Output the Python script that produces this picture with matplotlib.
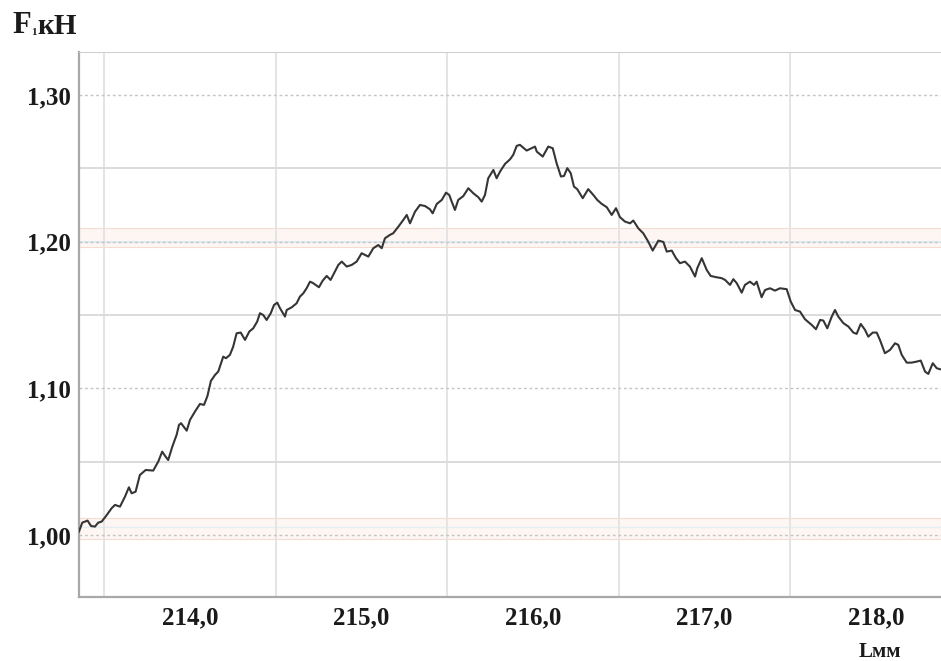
import matplotlib
matplotlib.use("Agg")
import matplotlib.pyplot as plt
from matplotlib.ticker import FixedLocator, FuncFormatter
import numpy as np

# Displacement L, mm
L_mm = [
    213.353, 213.372, 213.403, 213.423, 213.446, 213.465, 213.485, 213.508, 213.543, 213.563,
    213.592, 213.621, 213.644, 213.660, 213.683, 213.708, 213.742, 213.786, 213.815, 213.838,
    213.858, 213.873, 213.897, 213.922, 213.936, 213.948, 213.981, 214.000, 214.029, 214.058,
    214.082, 214.102, 214.122, 214.146, 214.165, 214.194, 214.210, 214.233, 214.252, 214.272,
    214.296, 214.321, 214.346, 214.369, 214.392, 214.408, 214.427, 214.447, 214.471, 214.490,
    214.509, 214.525, 214.554, 214.564, 214.593, 214.622, 214.641, 214.661, 214.680, 214.700,
    214.717, 214.752, 214.774, 214.797, 214.820, 214.845, 214.865, 214.885, 214.914, 214.943,
    214.972, 215.001, 215.040, 215.069, 215.098, 215.118, 215.137, 215.166, 215.185, 215.215,
    215.244, 215.264, 215.283, 215.312, 215.341, 215.370, 215.399, 215.415, 215.439, 215.468,
    215.493, 215.512, 215.526, 215.545, 215.564, 215.594, 215.623, 215.652, 215.681, 215.701,
    215.720, 215.739, 215.769, 215.788, 215.808, 215.837, 215.866, 215.885, 215.905, 215.924,
    215.963, 215.992, 216.012, 216.022, 216.057, 216.089, 216.115, 216.138, 216.163, 216.181,
    216.200, 216.220, 216.239, 216.258, 216.290, 216.322, 216.352, 216.375, 216.401, 216.430,
    216.459, 216.484, 216.507, 216.536, 216.566, 216.585, 216.614, 216.643, 216.672, 216.698,
    216.731, 216.760, 216.780, 216.809, 216.834, 216.857, 216.886, 216.915, 216.945, 216.958,
    216.984, 217.013, 217.036, 217.071, 217.100, 217.120, 217.149, 217.168, 217.188, 217.217,
    217.236, 217.265, 217.289, 217.304, 217.333, 217.353, 217.382, 217.411, 217.440, 217.479,
    217.503, 217.528, 217.557, 217.586, 217.625, 217.650, 217.674, 217.693, 217.716, 217.742,
    217.761, 217.780, 217.810, 217.839, 217.868, 217.887, 217.911, 217.936, 217.955, 217.981,
    218.004, 218.023, 218.052, 218.082, 218.111, 218.130, 218.150, 218.179, 218.208, 218.237,
    218.261, 218.286, 218.305, 218.331, 218.354, 218.373,
]

# Force F1, kN
F_kN = [
    1.0023, 1.0084, 1.0098, 1.0061, 1.0057, 1.0084, 1.0091, 1.0125, 1.0182, 1.0205,
    1.0193, 1.0261, 1.0325, 1.0284, 1.0295, 1.0409, 1.0443, 1.0439, 1.0500, 1.0568,
    1.0534, 1.0511, 1.0602, 1.0682, 1.0750, 1.0762, 1.0711, 1.0784, 1.0841, 1.0893,
    1.0887, 1.0948, 1.1050, 1.1091, 1.1114, 1.1216, 1.1205, 1.1228, 1.1284, 1.1375,
    1.1380, 1.1330, 1.1387, 1.1409, 1.1455, 1.1512, 1.1500, 1.1466, 1.1512, 1.1568,
    1.1584, 1.1546, 1.1489, 1.1534, 1.1552, 1.1580, 1.1625, 1.1648, 1.1682, 1.1727,
    1.1718, 1.1689, 1.1734, 1.1766, 1.1739, 1.1795, 1.1841, 1.1864, 1.1830, 1.1841,
    1.1864, 1.1921, 1.1898, 1.1955, 1.1977, 1.1955, 1.2023, 1.2046, 1.2057, 1.2102,
    1.2148, 1.2182, 1.2125, 1.2204, 1.2250, 1.2243, 1.2221, 1.2193, 1.2257, 1.2284,
    1.2334, 1.2318, 1.2273, 1.2216, 1.2284, 1.2311, 1.2364, 1.2330, 1.2303, 1.2273,
    1.2318, 1.2432, 1.2489, 1.2432, 1.2478, 1.2530, 1.2561, 1.2592, 1.2653, 1.2660,
    1.2621, 1.2637, 1.2648, 1.2614, 1.2580, 1.2648, 1.2637, 1.2534, 1.2444, 1.2448,
    1.2501, 1.2467, 1.2375, 1.2358, 1.2296, 1.2358, 1.2318, 1.2284, 1.2257, 1.2235,
    1.2182, 1.2228, 1.2167, 1.2137, 1.2125, 1.2144, 1.2091, 1.2057, 1.2000, 1.1939,
    1.2007, 1.1998, 1.1932, 1.1939, 1.1887, 1.1853, 1.1864, 1.1830, 1.1762, 1.1819,
    1.1887, 1.1807, 1.1766, 1.1757, 1.1751, 1.1739, 1.1705, 1.1744, 1.1717, 1.1652,
    1.1705, 1.1727, 1.1705, 1.1727, 1.1621, 1.1670, 1.1682, 1.1666, 1.1682, 1.1676,
    1.1591, 1.1534, 1.1523, 1.1471, 1.1432, 1.1403, 1.1466, 1.1462, 1.1409, 1.1489,
    1.1534, 1.1489, 1.1444, 1.1421, 1.1380, 1.1371, 1.1439, 1.1398, 1.1352, 1.1380,
    1.1380, 1.1330, 1.1239, 1.1262, 1.1307, 1.1296, 1.1228, 1.1175, 1.1175, 1.1182,
    1.1189, 1.1114, 1.1098, 1.1171, 1.1137, 1.1130,
]

x_ticks = [214.0, 215.0, 216.0, 217.0, 218.0]
y_ticks = [1.00, 1.10, 1.20, 1.30]

serif = "Liberation Serif"
W, H = 941, 661
fig = plt.figure(figsize=(W / 100, H / 100), dpi=100)
left_px, right_px, top_px, bottom_px = 79, 941, 52, 597
ax = fig.add_axes([left_px / W, 1 - bottom_px / H,
                   (right_px - left_px) / W, (bottom_px - top_px) / H])

ax.set_xlim(213.353, 218.379)
ax.set_ylim(0.9577, 1.3293)

# grid: light solid verticals every 0.5 mm, dashed majors / solid minors on y
ax.xaxis.set_major_locator(FixedLocator(x_ticks))
ax.xaxis.set_minor_locator(FixedLocator(np.arange(213.5, 218.4, 0.5)))
ax.yaxis.set_major_locator(FixedLocator(y_ticks))
ax.yaxis.set_minor_locator(FixedLocator([1.05, 1.15, 1.25]))
ax.grid(which="minor", axis="x", color="#e4e4e4", lw=1.4, ls="-")
ax.grid(which="minor", axis="y", color="#dcdcdc", lw=1.4, ls="-")
ax.grid(which="major", axis="y", color="#c4c4c4", lw=1.0, ls=(0, (2, 2)))

# faint highlight bands around 1,00 and 1,20
for lo, hi in [(0.9973, 1.0116), (1.1964, 1.2093)]:
    ax.axhspan(lo, hi, facecolor="#fdf6f3", edgecolor="#f5dcd3", lw=0.8, zorder=0.5)
ax.axhline(1.2, color="#d9e8f2", lw=1.2, zorder=0.6)
ax.axhline(1.0055, color="#e2edf4", lw=1.0, zorder=0.6)

ax.plot(L_mm, F_kN, color="#353535", lw=1.5, zorder=3)

comma = lambda fmt: FuncFormatter(lambda v, p: format(v, fmt).replace(".", ","))
ax.xaxis.set_major_formatter(comma(".1f"))
ax.yaxis.set_major_formatter(comma(".2f"))
ax.tick_params(which="both", length=0)
ax.tick_params(axis="y", pad=6)
ax.tick_params(axis="x", pad=7)
for lab in ax.get_xticklabels() + ax.get_yticklabels():
    lab.set_family(serif)
    lab.set_fontweight("bold")
    lab.set_fontsize(18)
    lab.set_color("#1a1a1a")

ax.spines["right"].set_visible(False)
ax.spines["left"].set_color("#a8a8a8")
ax.spines["bottom"].set_color("#a8a8a8")
ax.spines["top"].set_color("#d0d0d0")
for s in ("left", "bottom"):
    ax.spines[s].set_linewidth(1.6)

# axis captions
tF = fig.text(12 / W, 1 - 33 / H, "F", family=serif, fontweight="bold",
              fontsize=22, color="#1a1a1a", va="baseline")
t1 = ax.annotate("1", xy=(1, 0), xycoords=tF, xytext=(0.5, 2), textcoords="offset points",
                 family=serif, fontweight="bold", fontsize=8, color="#1a1a1a", va="bottom")
ax.annotate("кН", xy=(1, 0), xycoords=t1, xytext=(0.5, -2), textcoords="offset points",
            family=serif, fontweight="bold", fontsize=21, color="#1a1a1a", va="bottom")
fig.text(880 / W, 1 - 652 / H, "Lмм", family=serif, fontweight="bold",
         fontsize=15, color="#1a1a1a", ha="center", va="center")

fig.savefig("out.png", dpi=100, facecolor="white")
